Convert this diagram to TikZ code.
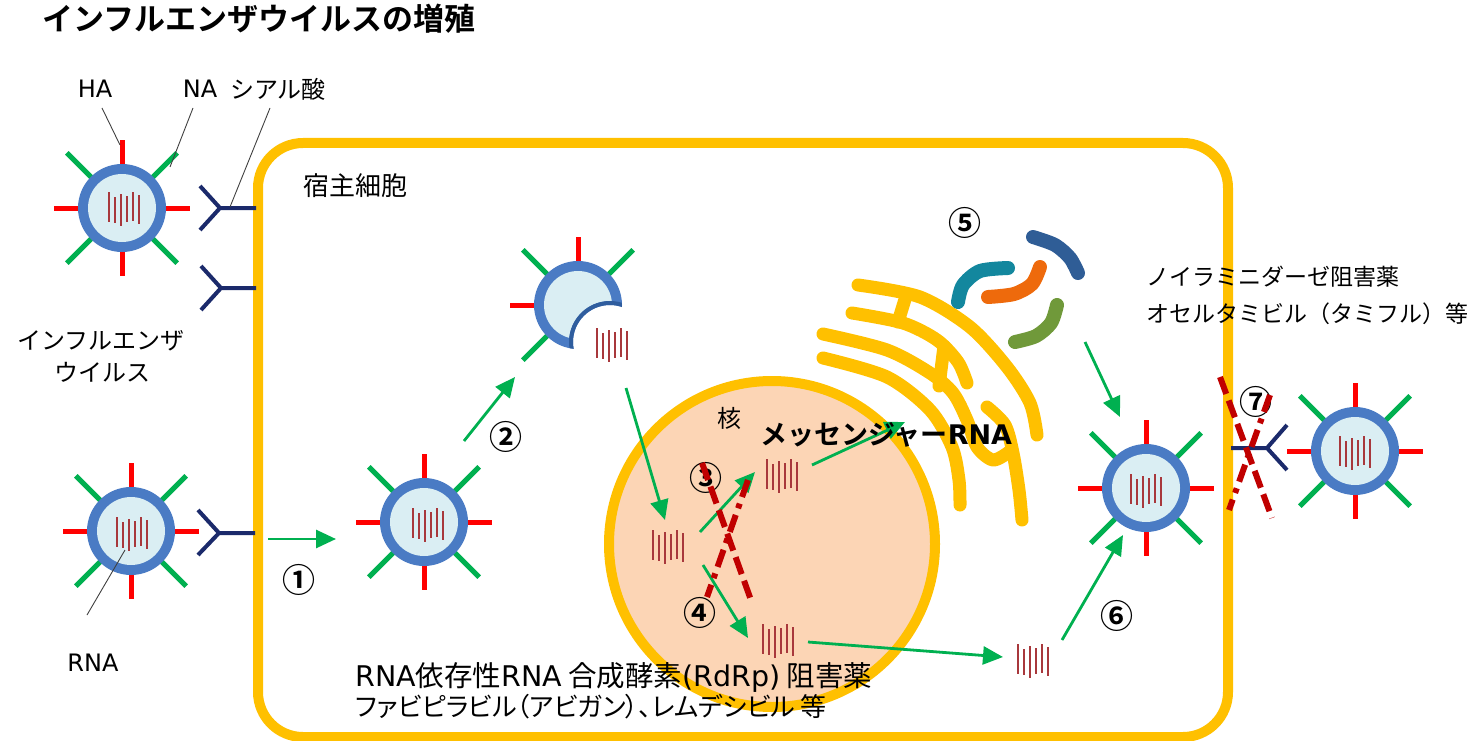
\documentclass[tikz,border=0pt]{standalone}
\usepackage{fontspec}
\setmainfont{Noto Sans CJK JP}[BoldFont={* Bold}]
\newfontfamily\jpprop{Noto Sans CJK JP}[RawFeature=+palt]
\newfontfamily\lat{DejaVu Sans}
\usetikzlibrary{arrows.meta}

\definecolor{cellyellow}{HTML}{FFC000}
\definecolor{nucfill}{HTML}{FCD5B5}
\definecolor{vring}{HTML}{4A7BC4}
\definecolor{vcore}{HTML}{DAEEF3}
\definecolor{biteedge}{HTML}{2F5D9E}
\definecolor{spred}{HTML}{FF0000}
\definecolor{spgreen}{HTML}{00B050}
\definecolor{recnavy}{HTML}{1B2A6B}
\definecolor{rnared}{HTML}{A8383C}
\definecolor{blockred}{HTML}{C00000}
\definecolor{riboteal}{HTML}{13879E}
\definecolor{riboorange}{HTML}{EE6A0C}
\definecolor{riboblue}{HTML}{2F5D96}
\definecolor{ribogreen}{HTML}{70993A}

\tikzset{
  membrane/.style={draw=cellyellow, line width=10pt},
  nucleus/.style={circle, draw=cellyellow, line width=10pt, fill=nucfill,
    minimum size=326pt, inner sep=0pt},
  er/.style={draw=cellyellow, line width=13pt, line cap=round, line join=round},
  ribo/.style={line width=14pt, line cap=round},
  spikered/.style={draw=spred, line width=5pt},
  spikegreen/.style={draw=spgreen, line width=5pt},
  rnaline/.style={draw=rnared, line width=1.8pt},
  receptor/.style={draw=recnavy, line width=4pt, line join=round},
  flow/.style={draw=spgreen, line width=2.8pt,
    -{Triangle[length=20pt,width=18pt]}},
  pointer/.style={draw=black!75, line width=0.9pt},
  block/.style={draw=blockred, line width=6pt, dash pattern=on 18pt off 7pt},
  blockdot/.style={draw=blockred, line width=6pt,
    dash pattern=on 18pt off 7pt on 5pt off 7pt},
  lbl/.style={font=\fontsize{24}{28}\selectfont, inner sep=0pt},
  numlbl/.style={font=\bfseries\fontsize{33}{36}\selectfont, inner sep=0pt},
  virus/.pic={
    \foreach \a in {0,90,180,270} {\draw[spikered] (\a:40) -- (\a:68);}
    \foreach \a in {45,135,225,315} {\draw[spikegreen] (\a:40) -- (\a:78);}
    \fill[vring] (0,0) circle (44);
    \fill[vcore] (0,0) circle (34);
  },
  rna/.pic={
    \foreach \x/\t/\b in {-15/-16/14, -9/-11/15, -3/-14/18, 3/-12/14, 9/-16/13, 15/-13/16}
      {\draw[rnaline] (\x,\t) -- (\x,\b);}
  },
}

\begin{document}
\begin{tikzpicture}[x=1pt,y=-1pt]
\useasboundingbox (0,0) rectangle (1483,741);

% host cell
\draw[membrane, rounded corners=45pt] (258,143) rectangle (1228,737);

% nucleus
\node[nucleus] (nuc) at (772,544) {};

% endoplasmic reticulum
\draw[er] plot[smooth] coordinates {(858,285) (920,297) (970,327) (1007,367) (1030,403) (1037,435)};
\draw[er] plot[smooth] coordinates {(852,313) (903,323) (937,340) (958,362) (967,383)};
\draw[er] plot[smooth] coordinates {(823,334) (887,350) (930,373) (953,393) (967,420) (977,447) (993,460) (1009,452)};
\draw[er] plot[smooth] coordinates {(987,407) (1005,425) (1013,453) (1019,490) (1022,520)};
\draw[er] plot[smooth] coordinates {(823,358) (887,377) (930,410) (952,447) (959,480) (960,505)};
\draw[er] (906,296) -- (898,322);
\draw[er] (944,346) -- (939,386);

% ribosome
\draw[ribo, riboteal] plot[smooth] coordinates {(1008,268) (980,271) (963,285) (958,302)};
\draw[ribo, riboorange] plot[smooth] coordinates {(1040,267) (1032,284) (1014,294) (988,297)};
\draw[ribo, riboblue] plot[smooth] coordinates {(1033,237) (1055,245) (1070,258) (1078,273)};
\draw[ribo, ribogreen] plot[smooth] coordinates {(1057,305) (1051,323) (1036,336) (1015,342)};

% sialic acid receptors
\draw[receptor] (200,186) -- (220,208) -- (200,230) (220,208) -- (256,208);
\draw[receptor] (201,266) -- (221,288) -- (201,310) (221,288) -- (256,288);
\draw[receptor] (198,510) -- (219,533) -- (198,555) (219,533) -- (255,533);
\draw[receptor] (1287,425) -- (1267,448) -- (1287,470) (1267,448) -- (1231,448);

% influenza virions
\pic at (122,208) {virus};
\pic at (131,531) {virus};
\pic at (424,522) {virus};
\pic at (1146,488) {virus};
\pic at (1355,451) {virus};

% uncoating virion
\begin{scope}[shift={(578,305)}]
  \draw[spikered] (270:40) -- (270:68);
  \draw[spikered] (180:40) -- (180:68);
  \foreach \a in {135,225,315} {\draw[spikegreen] (\a:40) -- (\a:78);}
  \begin{scope}[even odd rule]
    \clip (-100,-100) rectangle (100,100) (32,37) circle (37);
    \fill[vring] (0,0) circle (44);
    \clip (-100,-100) rectangle (100,100) (32,37) circle (41);
    \fill[vcore] (0,0) circle (34);
  \end{scope}
  \begin{scope}
    \clip (0,0) circle (44);
    \draw[biteedge, line width=4pt] (32,37) circle (39);
  \end{scope}
\end{scope}

% viral RNA
\pic at (124,208) {rna};
\pic at (132,533) {rna};
\pic at (428,524) {rna};
\pic at (612,344) {rna};
\pic at (668,546) {rna};
\pic at (782,475) {rna};
\pic at (778,640) {rna};
\pic at (1033,660) {rna};
\pic at (1146,490) {rna};
\pic at (1355,452) {rna};

% replication steps
\coordinate (a1s) at (268,539);  \coordinate (a1e) at (336,539);
\coordinate (a2s) at (464,441);  \coordinate (a2e) at (515,377);
\coordinate (a3s) at (626,388);  \coordinate (a3e) at (665,520);
\coordinate (a4s) at (700,532);  \coordinate (a4e) at (755,472);
\coordinate (a5s) at (812,465);  \coordinate (a5e) at (905,422);
\coordinate (a6s) at (703,565);  \coordinate (a6e) at (748,638);
\coordinate (a7s) at (808,642);  \coordinate (a7e) at (1003,657);
\coordinate (a8s) at (1062,640); \coordinate (a8e) at (1123,535);
\coordinate (a9s) at (1085,342); \coordinate (a9e) at (1120,417);
\foreach \s/\e in {a1s/a1e, a2s/a2e, a3s/a3e, a4s/a4e, a5s/a5e, a6s/a6e, a7s/a7e, a8s/a8e, a9s/a9e}
  {\draw[flow] (\s) -- (\e);}

% labels
\node[anchor=west, inner sep=0pt, font=\bfseries\fontsize{31}{35}\selectfont] (title) at (42,19) {インフルエンザウイルスの増殖};
\node[lbl, font=\lat\fontsize{24}{28}\selectfont] (ha) at (95,89) {HA};
\node[lbl, font=\lat\fontsize{24}{28}\selectfont] (na) at (200,89) {NA};
\node[lbl] (sia) at (278,89) {シアル酸};
\node[lbl, anchor=west, font=\fontsize{26}{30}\selectfont] (host) at (303,186) {宿主細胞};
\node[lbl] (flu1) at (101,341) {インフルエンザ};
\node[lbl] (flu2) at (102,372) {ウイルス};
\node[lbl, font=\lat\fontsize{24}{28}\selectfont] (rnalbl) at (93,663) {RNA};
\node[lbl] (nuclbl) at (729,418) {核};
\node[anchor=west, inner sep=0pt, font=\bfseries\fontsize{27}{32}\selectfont] (mrna) at (760,435) {メッセンジャー{\lat\bfseries RNA}};
\node[anchor=west, inner sep=0pt, font=\fontsize{23}{27}\selectfont] (nai1) at (1146,277) {ノイラミニダーゼ阻害薬};
\node[anchor=west, inner sep=0pt, font=\fontsize{23}{27}\selectfont] (nai2) at (1146,314) {オセルタミビル（タミフル）等};
\node[anchor=west, inner sep=0pt, font=\jpprop\fontsize{28.5}{30}\selectfont] (rdrp1) at (355,677) {{\lat RNA}依存性{\lat RNA} 合成酵素{\lat (RdRp)} 阻害薬};
\node[anchor=west, inner sep=0pt, font=\jpprop\fontsize{26}{30}\selectfont] (rdrp2) at (355,707) {ファビピラビル（アビガン）、レムデシビル 等};

\node[numlbl] (n1) at (299,580) {①};
\node[numlbl] (n2) at (506,437) {②};
\node[numlbl] (n3) at (706,478) {③};
\node[numlbl] (n4) at (700,613) {④};
\node[numlbl] (n5) at (965,223) {⑤};
\node[numlbl] (n6) at (1117,616) {⑥};
\node[numlbl] (n7) at (1256,402) {⑦};

% leader lines
\coordinate (haFoot) at (102,108);  \coordinate (haTip) at (120,145);
\coordinate (naFoot) at (193,108);  \coordinate (naTip) at (170,167);
\coordinate (siaFoot) at (270,108); \coordinate (siaTip) at (230,207);
\coordinate (rnaFoot) at (87,615);  \coordinate (rnaTip) at (125,550);
\draw[pointer] (haFoot) -- (haTip);
\draw[pointer] (naFoot) -- (naTip);
\draw[pointer] (siaFoot) -- (siaTip);
\draw[pointer] (rnaFoot) -- (rnaTip);

% blocked steps
\coordinate (x1a) at (702,463);  \coordinate (x1b) at (752,603);
\coordinate (x2a) at (748,480);  \coordinate (x2b) at (707,597);
\coordinate (x3a) at (1220,377); \coordinate (x3b) at (1272,518);
\coordinate (x4a) at (1270,395); \coordinate (x4b) at (1229,510);
\draw[block] (x1a) -- (x1b);
\draw[blockdot] (x2a) -- (x2b);
\draw[block] (x3a) -- (x3b);
\draw[blockdot] (x4a) -- (x4b);
\end{tikzpicture}
\end{document}
